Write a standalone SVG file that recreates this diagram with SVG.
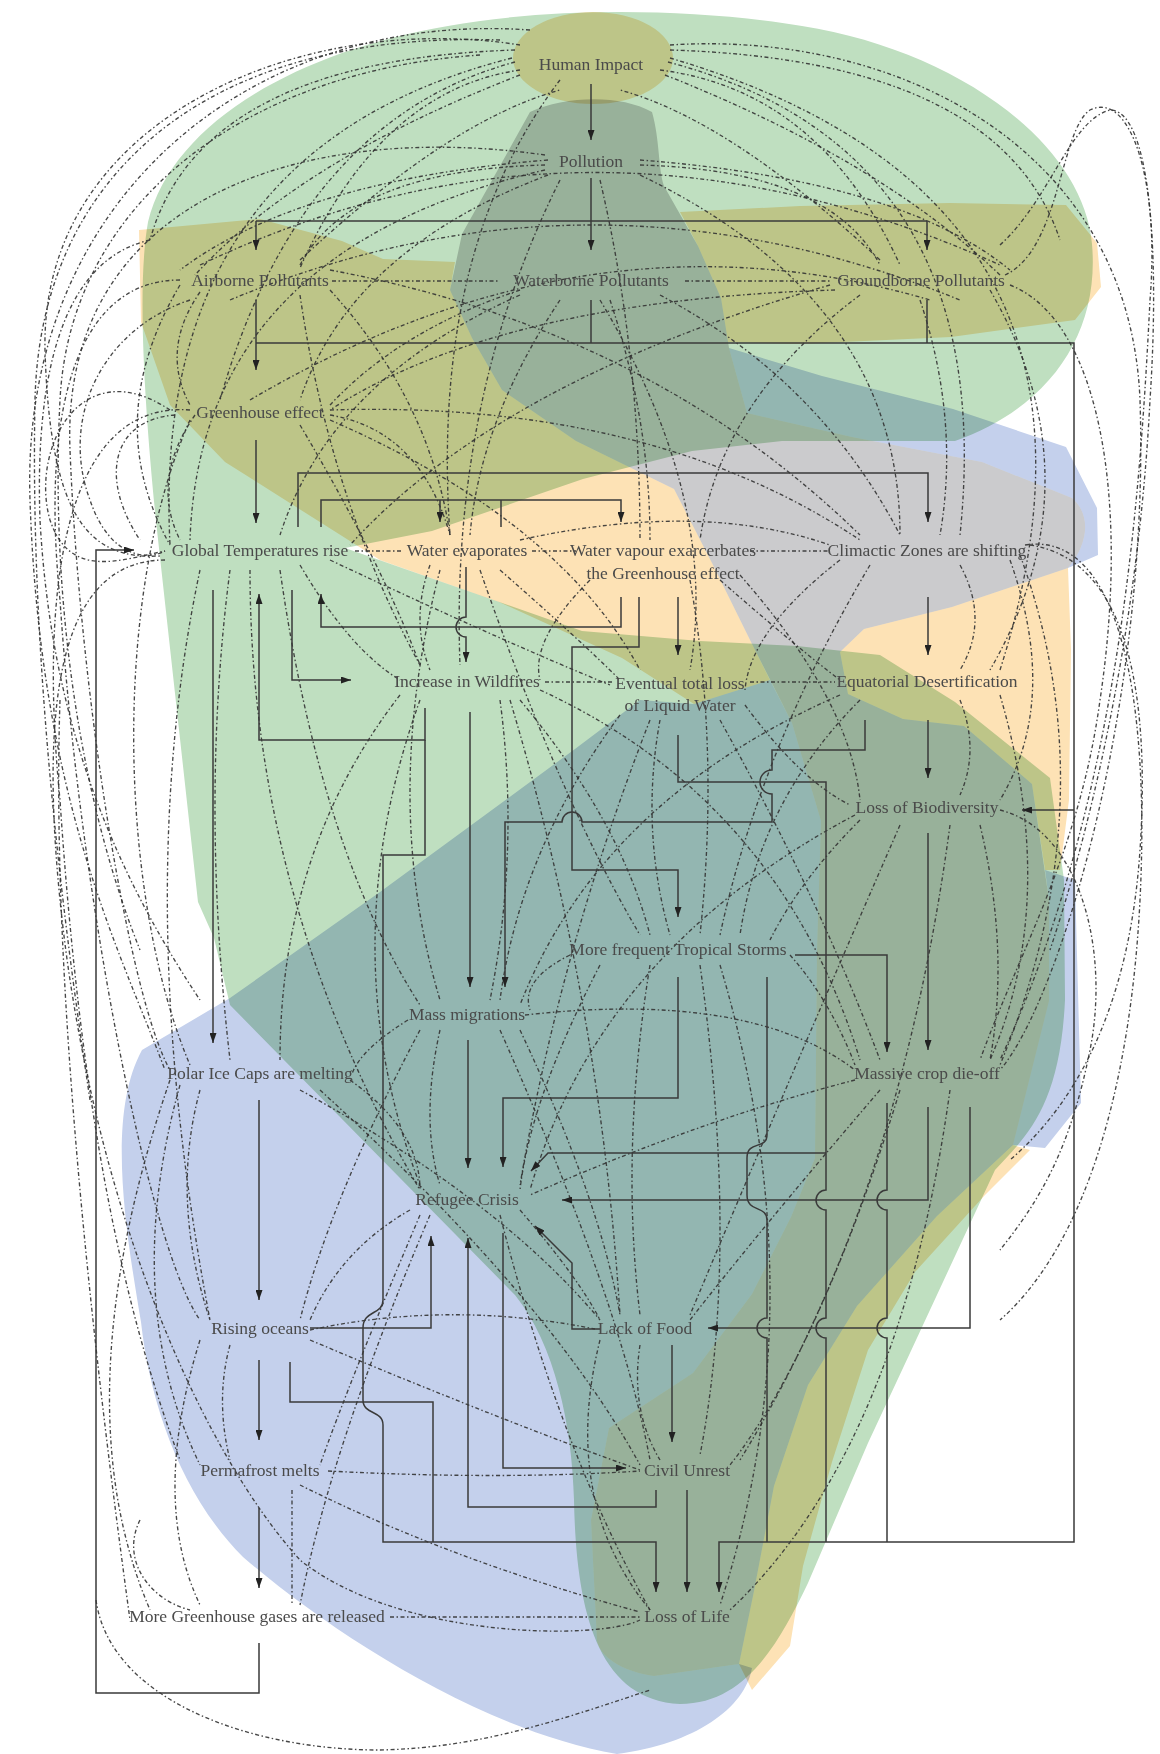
<svg xmlns="http://www.w3.org/2000/svg" width="1160" height="1754" viewBox="0 0 1160 1754">
<defs>
<style>
.blob{mix-blend-mode:multiply;stroke:none}
.d{fill:none;stroke:#333;stroke-width:1.35;stroke-dasharray:4 2.5 1.5 2.5;opacity:0.9}
.s{fill:none;stroke:#3a3a3a;stroke-width:1.5}
.a{marker-end:url(#ah)}
text{font-family:"Liberation Serif","DejaVu Serif",serif;font-size:17.5px;fill:#4a4a4a;text-anchor:middle}
</style>
<marker id="ah" viewBox="0 0 10 7" refX="10" refY="3.5" markerWidth="11" markerHeight="7" markerUnits="userSpaceOnUse" orient="auto"><path d="M0,0 L10,3.5 L0,7 Z" fill="#222"/></marker>
</defs>
<rect width="1160" height="1754" fill="#fff"/>
<g id="regions">
<path class="blob" fill="#bfdfc0" d="M230,1005 L515,1295 C555,1345 572,1425 574,1500 C576,1605 595,1700 680,1704 C745,1704 778,1645 808,1583 L868,1443 L910,1353 L995,1170 C1028,1135 1060,1105 1065,1000 L1064,880 L1050,778 L955,702 L880,655 L797,646 L700,641 L582,631 L345,548 L432,531 L583,479 L692,451 L782,441 L955,441 C1048,408 1100,335 1092,244 C1083,142 955,50 802,26 C700,9 558,6 448,26 C295,52 172,124 148,222 C136,290 146,420 156,521 L198,902 L214,938 Z"/>
<g class="blob" fill="#c4d0ec">
<path d="M230,998 L380,892 L575,749 L640,700 L694,704 L770,680 L792,723 L821,821 L817,950 L815,1158 L791,1217 L752,1294 L693,1373 L609,1428 L591,1520 L597,1641 C600,1656 620,1671 654,1676 L739,1664 L752,1668 C745,1708 695,1744 617,1754 C478,1730 325,1628 243,1557 C181,1495 150,1403 141,1322 C126,1232 106,1116 142,1050 Z"/>
<path d="M729,348 L822,376 L953,409 L1066,447 L1097,508 L1098,555 L1068,568 C1088,545 1092,515 1072,498 L982,462 L852,437 L747,413 Z"/>
<path d="M1045,870 L1075,880 L1081,1103 L1045,1148 L1013,1145 L1049,1001 L1049,900 Z"/>
</g>
<g class="blob" fill="#fde2b5">
<path d="M139,230 L260,219 L342,241 L383,259 L455,262 L450,290 L472,338 L502,390 L576,441 L674,489 L712,563 L752,644 L770,680 L694,704 L622,658 L499,602 L380,560 L225,462 L170,405 L141,322 Z"/>
<path d="M1068,568 L1071,650 L1069,800 L1060,870 L1045,870 L1032,784 L964,726 L903,719 L848,694 L840,652 L864,629 L952,607 Z"/>
<path d="M1030,1150 L985,1195 L915,1272 L868,1350 L832,1462 L803,1566 L790,1646 L752,1690 L739,1664 L754,1591 L774,1486 L808,1385 L857,1306 L937,1216 L1013,1145 Z"/>
<ellipse cx="593" cy="58" rx="80" ry="46"/>
<path d="M680,212 L800,206 L950,203 L1066,205 L1097,243 L1101,287 L1075,320 L951,337 L800,344 L728,342 L721,298 L698,246 Z"/>
</g>
<path class="blob" fill="#cbcbcd" d="M530,112 C565,96 620,94 652,112 C660,140 658,168 664,186 L698,246 L721,298 L729,348 L747,413 L852,437 L982,462 L1072,498 C1092,515 1088,545 1068,568 L952,607 L864,629 L840,652 L848,694 L903,719 L964,726 L1032,784 L1049,900 L1049,1001 L1013,1145 L937,1216 L857,1306 L808,1385 L774,1486 L754,1591 L739,1664 L654,1676 C620,1671 600,1656 597,1641 L591,1520 L609,1428 L693,1373 L752,1294 L791,1217 L815,1158 L817,950 L821,821 L792,723 L752,644 L712,563 L674,489 L576,441 L502,390 L472,338 L450,290 L462,234 Z"/>
</g>
<g id="dashed-links">
<path class="d" d="M520,70 Q380,90 300,268"/>
<path class="d" d="M660,70 Q820,90 900,265"/>
<path class="d" d="M515,62 Q300,120 220,400"/>
<path class="d" d="M512,58 Q150,150 170,545"/>
<path class="d" d="M668,62 Q1000,150 960,535"/>
<path class="d" d="M560,80 Q430,250 450,535"/>
<path class="d" d="M670,58 Q1150,200 1000,670"/>
<path class="d" d="M520,45 C300,10 40,120 45,350 C50,520 90,560 160,556"/>
<path class="d" d="M530,30 C250,10 20,200 30,500 C40,800 120,950 165,1070"/>
<path class="d" d="M670,45 C900,30 1130,150 1140,400 C1150,700 1060,1000 1000,1070"/>
<path class="d" d="M545,165 Q350,170 300,265"/>
<path class="d" d="M640,165 Q830,170 880,265"/>
<path class="d" d="M548,175 Q350,250 300,400"/>
<path class="d" d="M640,175 Q900,300 900,535"/>
<path class="d" d="M545,170 Q200,250 190,540"/>
<path class="d" d="M560,180 Q450,400 460,665"/>
<path class="d" d="M600,180 Q640,350 640,540"/>
<path class="d" d="M545,155 C300,120 60,200 70,450 C80,700 130,1000 170,1070"/>
<path class="d" d="M200,292 Q160,350 190,405"/>
<path class="d" d="M330,290 Q430,400 450,535"/>
<path class="d" d="M180,285 Q100,420 170,545"/>
<path class="d" d="M300,295 Q330,500 420,665"/>
<path class="d" d="M332,281 L500,281"/>
<path class="d" d="M685,281 L832,281"/>
<path class="d" d="M180,280 C80,280 40,400 60,600 C80,900 150,1250 200,1320"/>
<path class="d" d="M330,270 Q650,330 860,535"/>
<path class="d" d="M520,290 Q400,330 330,405"/>
<path class="d" d="M560,300 Q480,420 470,535"/>
<path class="d" d="M610,300 Q650,420 650,540"/>
<path class="d" d="M660,295 Q820,380 900,535"/>
<path class="d" d="M600,300 Q720,500 690,670"/>
<path class="d" d="M520,295 Q330,380 280,535"/>
<path class="d" d="M920,300 Q960,420 940,535"/>
<path class="d" d="M990,290 Q1100,480 990,670"/>
<path class="d" d="M860,295 Q720,400 700,540"/>
<path class="d" d="M835,290 Q500,300 330,410"/>
<path class="d" d="M1005,275 C1060,250 1060,130 1090,110 C1130,90 1160,180 1150,300 C1140,500 1120,800 1000,1060"/>
<path class="d" d="M1010,285 C1100,320 1130,500 1100,700 C1080,850 1020,950 980,1060"/>
<path class="d" d="M830,285 Q500,380 350,545"/>
<path class="d" d="M330,415 Q420,430 450,535"/>
<path class="d" d="M195,415 Q150,480 180,540"/>
<path class="d" d="M300,425 Q380,560 420,665"/>
<path class="d" d="M330,410 Q650,400 860,540"/>
<path class="d" d="M190,410 C60,400 40,600 60,800 C80,1100 120,1300 180,1460"/>
<path class="d" d="M190,420 C110,600 120,900 190,1065"/>
<path class="d" d="M330,420 Q560,520 640,670"/>
<path class="d" d="M355,551 L402,551"/>
<path class="d" d="M300,565 Q350,650 400,680"/>
<path class="d" d="M230,570 Q200,800 230,1060"/>
<path class="d" d="M280,570 Q320,850 420,1005"/>
<path class="d" d="M250,570 Q250,900 420,1190"/>
<path class="d" d="M200,570 Q130,900 210,1320"/>
<path class="d" d="M330,560 Q500,640 610,685"/>
<path class="d" d="M165,560 C60,560 40,700 60,900 C90,1200 200,1450 300,1560 C400,1640 600,1640 640,1620"/>
<path class="d" d="M532,551 L576,551"/>
<path class="d" d="M430,565 Q410,620 430,670"/>
<path class="d" d="M500,570 Q580,640 620,680"/>
<path class="d" d="M520,540 Q700,500 830,545"/>
<path class="d" d="M480,570 Q560,800 640,935"/>
<path class="d" d="M440,570 Q380,800 440,1000"/>
<path class="d" d="M750,551 L828,551"/>
<path class="d" d="M720,580 Q800,650 840,680"/>
<path class="d" d="M590,580 Q530,640 540,680"/>
<path class="d" d="M690,580 Q720,750 700,935"/>
<path class="d" d="M740,575 Q850,700 860,800"/>
<path class="d" d="M960,565 Q990,620 960,670"/>
<path class="d" d="M1010,560 Q1060,700 1000,800"/>
<path class="d" d="M840,560 Q750,630 745,690"/>
<path class="d" d="M870,565 Q760,750 720,935"/>
<path class="d" d="M1020,555 Q1110,800 1000,1065"/>
<path class="d" d="M1025,545 C1120,530 1150,700 1140,900 C1130,1100 1080,1250 1000,1320"/>
<path class="d" d="M545,682 L612,682"/>
<path class="d" d="M500,700 Q520,850 490,1000"/>
<path class="d" d="M520,700 Q620,820 650,935"/>
<path class="d" d="M420,700 Q330,950 420,1185"/>
<path class="d" d="M400,695 Q280,850 280,1060"/>
<path class="d" d="M510,700 Q600,1000 620,1315"/>
<path class="d" d="M540,690 Q780,800 860,1060"/>
<path class="d" d="M750,682 L835,682"/>
<path class="d" d="M660,720 Q640,830 670,935"/>
<path class="d" d="M620,715 Q520,850 500,1000"/>
<path class="d" d="M745,705 Q800,780 850,805"/>
<path class="d" d="M650,720 Q560,950 520,1185"/>
<path class="d" d="M720,720 Q820,900 880,1060"/>
<path class="d" d="M960,700 Q980,750 960,795"/>
<path class="d" d="M860,700 Q760,800 740,935"/>
<path class="d" d="M1000,695 Q1060,900 990,1060"/>
<path class="d" d="M840,695 Q600,800 520,1005"/>
<path class="d" d="M860,820 Q800,880 770,940"/>
<path class="d" d="M980,825 Q1010,950 990,1060"/>
<path class="d" d="M855,815 Q600,950 530,1190"/>
<path class="d" d="M900,825 Q780,1100 690,1315"/>
<path class="d" d="M950,825 Q900,1200 740,1460"/>
<path class="d" d="M570,955 Q520,980 530,1010"/>
<path class="d" d="M790,955 Q830,1000 855,1065"/>
<path class="d" d="M600,965 Q530,1100 520,1190"/>
<path class="d" d="M650,965 Q620,1150 640,1315"/>
<path class="d" d="M700,965 Q740,1250 700,1455"/>
<path class="d" d="M720,965 Q820,1300 720,1605"/>
<path class="d" d="M408,1020 Q360,1050 352,1074"/>
<path class="d" d="M440,1030 Q420,1120 440,1185"/>
<path class="d" d="M420,1030 Q330,1200 300,1320"/>
<path class="d" d="M520,1030 Q600,1200 620,1315"/>
<path class="d" d="M500,1030 Q620,1300 650,1460"/>
<path class="d" d="M525,1015 Q750,990 855,1070"/>
<path class="d" d="M200,1090 Q170,1200 210,1320"/>
<path class="d" d="M350,1080 Q420,1130 420,1190"/>
<path class="d" d="M180,1085 Q120,1300 200,1465"/>
<path class="d" d="M170,1080 Q60,1400 150,1610"/>
<path class="d" d="M300,1090 Q500,1200 600,1320"/>
<path class="d" d="M320,1090 Q550,1300 640,1465"/>
<path class="d" d="M855,1080 Q700,1120 530,1195"/>
<path class="d" d="M880,1090 Q760,1230 690,1320"/>
<path class="d" d="M900,1090 Q820,1350 730,1465"/>
<path class="d" d="M950,1090 Q900,1450 730,1610"/>
<path class="d" d="M410,1210 Q340,1250 310,1320"/>
<path class="d" d="M420,1215 Q350,1380 320,1465"/>
<path class="d" d="M520,1210 Q580,1280 600,1320"/>
<path class="d" d="M500,1215 Q560,1450 650,1610"/>
<path class="d" d="M430,1215 Q330,1450 300,1605"/>
<path class="d" d="M230,1345 Q215,1400 230,1460"/>
<path class="d" d="M310,1340 Q500,1420 640,1470"/>
<path class="d" d="M310,1330 Q450,1300 595,1329"/>
<path class="d" d="M200,1340 Q150,1500 200,1605"/>
<path class="d" d="M640,1345 Q630,1410 660,1460"/>
<path class="d" d="M600,1340 Q560,1500 650,1610"/>
<path class="d" d="M328,1471 Q500,1480 640,1471"/>
<path class="d" d="M292,1490 L292,1605"/>
<path class="d" d="M300,1485 Q450,1560 640,1612"/>
<path class="d" d="M390,1617 L642,1617"/>
<path class="d" d="M96,1600 C110,1700 250,1750 380,1750 C480,1748 560,1720 650,1690"/>
<path class="d" d="M520,75 Q300,160 195,275"/>
<path class="d" d="M665,75 Q880,160 1000,275"/>
<path class="d" d="M515,50 Q200,60 150,240"/>
<path class="d" d="M670,50 Q1000,60 1060,240"/>
<path class="d" d="M548,160 Q300,180 180,270"/>
<path class="d" d="M640,160 Q900,180 1010,270"/>
<path class="d" d="M200,265 Q590,80 1000,265"/>
<path class="d" d="M230,300 Q590,150 960,300"/>
<path class="d" d="M250,400 Q590,200 930,300"/>
<path class="d" d="M300,260 Q450,120 560,90"/>
<path class="d" d="M880,260 Q730,120 620,90"/>
<path class="d" d="M500,40 C200,30 40,180 35,400 C30,650 60,900 90,1100"/>
<path class="d" d="M480,55 C250,70 70,200 60,400 C50,600 80,800 140,950"/>
<path class="d" d="M150,240 C60,260 35,380 40,520 C50,700 100,850 200,1000"/>
<path class="d" d="M170,410 C80,350 30,450 50,520 C70,580 120,560 165,551"/>
<path class="d" d="M190,300 C100,330 60,420 90,500 C110,560 150,560 165,551"/>
<path class="d" d="M175,415 C110,420 100,480 140,540"/>
<path class="d" d="M1000,245 C1050,200 1070,120 1110,110 C1150,110 1160,250 1150,400 C1140,600 1100,800 1050,950"/>
<path class="d" d="M1030,545 C1130,560 1150,700 1140,850 C1130,1000 1080,1100 1010,1160"/>
<path class="d" d="M1000,810 C1080,830 1110,950 1090,1050 C1070,1150 1040,1200 1000,1250"/>
<path class="d" d="M140,1520 C120,1560 150,1600 190,1610"/>
<path class="d" d="M60,700 C50,1000 100,1400 130,1620"/>
</g>
<g id="connectors">
<path class="s a" d="M591,84 V140"/>
<path class="s a" d="M591,178 V250"/>
<path class="s" d="M256,221 H927"/>
<path class="s a" d="M256,221 V250"/>
<path class="s a" d="M927,221 V250"/>
<path class="s a" d="M256,300 V370"/>
<path class="s a" d="M256,343 H1074 V1542 H719 V1592"/>
<path class="s" d="M591,300 V343"/>
<path class="s" d="M927,300 V343"/>
<path class="s a" d="M1074,810 H1022"/>
<path class="s a" d="M256,440 V523"/>
<path class="s a" d="M298,527 V473 H928 V522"/>
<path class="s a" d="M321,527 V500 H621 V522"/>
<path class="s a" d="M440,500 V522"/>
<path class="s" d="M501,527 V500"/>
<path class="s a" d="M213,590 V1043"/>
<path class="s a" d="M425,708 V740 H259 V594"/>
<path class="s a" d="M425,740 V855 H383 V1300 C383,1315 363,1310 363,1328 V1400 C363,1415 383,1410 383,1425 V1542 H656 V1592"/>
<path class="s a" d="M292,590 V680 H351"/>
<path class="s a" d="M621,597 V627 H321 V594"/>
<path class="s a" d="M466,567 V617 A10,10 0 0 0 466,637 V662"/>
<path class="s a" d="M678,597 V655"/>
<path class="s a" d="M639,597 V647 H572 V870 H678 V917"/>
<path class="s a" d="M865,720 V750 H772 V770 A12,12 0 0 0 772,794 V822 H582 A10,10 0 0 0 562,822 H505 V987"/>
<path class="s" d="M678,735 V782 H826 V1190 A10,10 0 0 0 826,1210 V1318 A10,10 0 0 0 826,1338 V1542"/>
<path class="s a" d="M826,1153 H548 L531,1171"/>
<path class="s a" d="M928,597 V655"/>
<path class="s a" d="M928,720 V778"/>
<path class="s a" d="M928,833 V1050"/>
<path class="s a" d="M470,712 V987"/>
<path class="s a" d="M678,977 V1098 H503 V1167"/>
<path class="s a" d="M468,1040 V1168"/>
<path class="s a" d="M795,955 H887 V1052"/>
<path class="s a" d="M928,1107 V1200 H562"/>
<path class="s a" d="M970,1107 V1328 H708"/>
<path class="s" d="M887,1103 V1190 A10,10 0 0 0 887,1210 V1318 A10,10 0 0 0 887,1338 V1542"/>
<path class="s" d="M767,977 V1135 C767,1150 747,1140 747,1158 V1195 C747,1213 767,1205 767,1220 V1318 A10,10 0 0 0 767,1338 V1542"/>
<path class="s a" d="M600,1329 H572 V1263 L535,1226"/>
<path class="s a" d="M503,1233 V1468 H626"/>
<path class="s a" d="M310,1328 H431 V1236"/>
<path class="s a" d="M656,1490 V1507 H468 V1238"/>
<path class="s a" d="M672,1345 V1442"/>
<path class="s a" d="M687,1490 V1592"/>
<path class="s" d="M290,1362 V1402 H433 V1542"/>
<path class="s a" d="M259,1100 V1300"/>
<path class="s a" d="M259,1360 V1440"/>
<path class="s a" d="M259,1508 V1588"/>
<path class="s a" d="M259,1643 V1693 H96 V550 H134"/>
</g>
<g id="n-human-impact"><text x="591" y="70">Human Impact</text></g>
<g id="n-pollution"><text x="591" y="167">Pollution</text></g>
<g id="n-airborne"><text x="260" y="286">Airborne Pollutants</text></g>
<g id="n-waterborne"><text x="591" y="286">Waterborne Pollutants</text></g>
<g id="n-groundborne"><text x="921" y="286">Groundborne Pollutants</text></g>
<g id="n-greenhouse"><text x="260" y="418">Greenhouse effect</text></g>
<g id="n-global-temp"><text x="260" y="556">Global Temperatures rise</text></g>
<g id="n-water-evap"><text x="467" y="556">Water evaporates</text></g>
<g id="n-water-vapour"><text x="663" y="556">Water vapour exarcerbates</text><text x="663" y="579">the Greenhouse effect</text></g>
<g id="n-climactic"><text x="927" y="556">Climactic Zones are shifting</text></g>
<g id="n-wildfires"><text x="467" y="687">Increase in Wildfires</text></g>
<g id="n-liquid-water"><text x="680" y="689">Eventual total loss</text><text x="680" y="711">of Liquid Water</text></g>
<g id="n-desertification"><text x="927" y="687">Equatorial Desertification</text></g>
<g id="n-biodiversity"><text x="927" y="813">Loss of Biodiversity</text></g>
<g id="n-storms"><text x="678" y="955">More frequent Tropical Storms</text></g>
<g id="n-migrations"><text x="467" y="1020">Mass migrations</text></g>
<g id="n-ice-caps"><text x="260" y="1079">Polar Ice Caps are melting</text></g>
<g id="n-crop"><text x="927" y="1079">Massive crop die-off</text></g>
<g id="n-refugee"><text x="467" y="1205">Refugee Crisis</text></g>
<g id="n-oceans"><text x="260" y="1334">Rising oceans</text></g>
<g id="n-food"><text x="645" y="1334">Lack of Food</text></g>
<g id="n-permafrost"><text x="260" y="1476">Permafrost melts</text></g>
<g id="n-unrest"><text x="687" y="1476">Civil Unrest</text></g>
<g id="n-gases"><text x="257" y="1622">More Greenhouse gases are released</text></g>
<g id="n-life"><text x="687" y="1622">Loss of Life</text></g>
</svg>
